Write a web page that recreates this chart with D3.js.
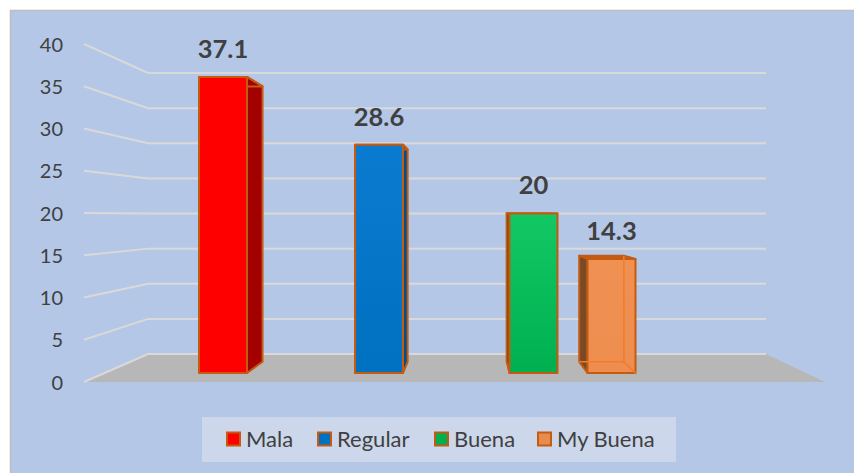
<!DOCTYPE html>
<html><head><meta charset="utf-8">
<script src="https://cdnjs.cloudflare.com/ajax/libs/d3/7.8.5/d3.min.js"></script>
<style>html,body{margin:0;padding:0;background:#fff}svg{display:block}text{font-family:Lato,sans-serif}</style>
</head><body><svg id="c" width="854" height="473"></svg>
<script>
const categories=["Mala","Regular","Buena","My Buena"];
const values=[37.1,28.6,20,14.3];
const axisTicks=[0,5,10,15,20,25,30,35,40];
const fills=["#ff0000","#0070c0","#00b050","#ed7d31"];
const fillsTop=["#ff0000","#0a7bd0","#12c864","#ef9153"];
const sides=["#a30000","#004f8a","#0b4a2c","#7a4a26"];

const svg=d3.select("#c");
const edge="#c55a11", grid="#d9d9d9", ink="#404040";
const vp=[469,213], depth=0.07;
const toward=(p,f)=>[p[0]+(vp[0]-p[0])*f,p[1]+(vp[1]-p[1])*f];
const yAxis=d3.scaleLinear().domain([0,40]).range([382,44]);
const yBack=d3.scaleLinear().domain([0,40]).range([354,73]);
const yFront=d3.scaleLinear().domain([0,40]).range([373,53.8]);
const xCenter=d3.scaleOrdinal().domain(categories).range([223,379,533.5,611.5]);
const barW=48;
const pts=a=>a.map(p=>p.join(",")).join(" ");

const defs=svg.append("defs");
categories.forEach((c,i)=>{
  const lg=defs.append("linearGradient").attr("id","g"+i).attr("x1",0).attr("y1",0).attr("x2",0).attr("y2",1);
  lg.append("stop").attr("offset",0).attr("stop-color",fillsTop[i]);
  lg.append("stop").attr("offset",1).attr("stop-color",i===3?"#ee8d4e":fills[i]);
});

svg.append("rect").attr("x",10.5).attr("y",10.5).attr("width",900).attr("height",500)
  .attr("fill","#b4c7e7").attr("stroke","#bfbfbf").attr("stroke-width",1.6);

svg.append("polygon").attr("points",pts([[84,382],[148,354],[766,354],[825,382]])).attr("fill","#b7b7b7");

const line=d3.line();
svg.append("g").selectAll("path").data(axisTicks).join("path")
  .attr("d",t=>line([[84,yAxis(t)],[148,yBack(t)],[766,yBack(t)]]))
  .attr("fill","none").attr("stroke",grid).attr("stroke-width",2);

const ax=svg.append("g").attr("transform","translate(69,0.6)")
  .call(d3.axisLeft(yAxis).tickValues(axisTicks).tickSize(0).tickPadding(6));
ax.select(".domain").remove();
ax.selectAll("text").attr("fill",ink).style("font-family","Lato,sans-serif").style("font-size","20px");

const g=svg.append("g");
categories.forEach((c,i)=>{
  const v=values[i], L=xCenter(c)-barW/2, R=L+barW, T=yFront(v), B=yFront(0);
  const TL=[L,T],TR=[R,T],BL=[L,B],BR=[R,B];
  const tl=toward(TL,depth),tr=toward(TR,depth),bl=toward(BL,depth),br=toward(BR,depth);
  const bar=g.append("g").attr("stroke",edge).attr("stroke-width",2).attr("stroke-linejoin","round");
  if(c==="My Buena"){
    bar.append("polygon").attr("points",pts([TL,tl,bl,BL])).attr("fill",sides[i]);
    bar.append("polygon").attr("points",pts([tl,tr,TR,TL])).attr("fill",edge);
    bar.append("rect").attr("x",L).attr("y",T).attr("width",barW).attr("height",B-T).attr("fill",`url(#g${i})`);
    // inner back edges seen through the translucent box
    bar.append("path").attr("d",line([tr,br,bl])+line([br,BR])).attr("fill","none").attr("stroke","#ed7d31").attr("stroke-width",1.6);
  }else{
    const side=R<vp[0]?[TR,tr,br,BR]:[TL,tl,bl,BL];
    bar.append("polygon").attr("points",pts(side)).attr("fill",sides[i]);
    bar.append("polygon").attr("points",pts([tl,tr,TR,TL])).attr("fill",sides[i]);
    bar.append("rect").attr("x",L).attr("y",T).attr("width",barW).attr("height",B-T).attr("fill",`url(#g${i})`);
  }
  g.append("text").attr("x",xCenter(c)).attr("y",T-19).attr("text-anchor","middle")
    .attr("fill",ink).style("font-size","25.5px").style("font-weight",700).text(v);
});

svg.append("rect").attr("x",202).attr("y",417).attr("width",474).attr("height",45).attr("fill","#cdd7eb");
const legendX=d3.scaleOrdinal().domain(categories).range([227,318,435,538]);
const lg=svg.append("g").selectAll("g").data(categories).join("g")
  .attr("transform",c=>`translate(${legendX(c)},432.5)`);
lg.append("rect").attr("width",13).attr("height",13)
  .attr("fill",(c,i)=>i===3?"#e88c4d":fills[i]).attr("stroke",edge).attr("stroke-width",2);
lg.append("text").attr("x",19).attr("y",14).attr("fill",ink).style("font-size","22px").text(c=>c);
</script></body></html>
